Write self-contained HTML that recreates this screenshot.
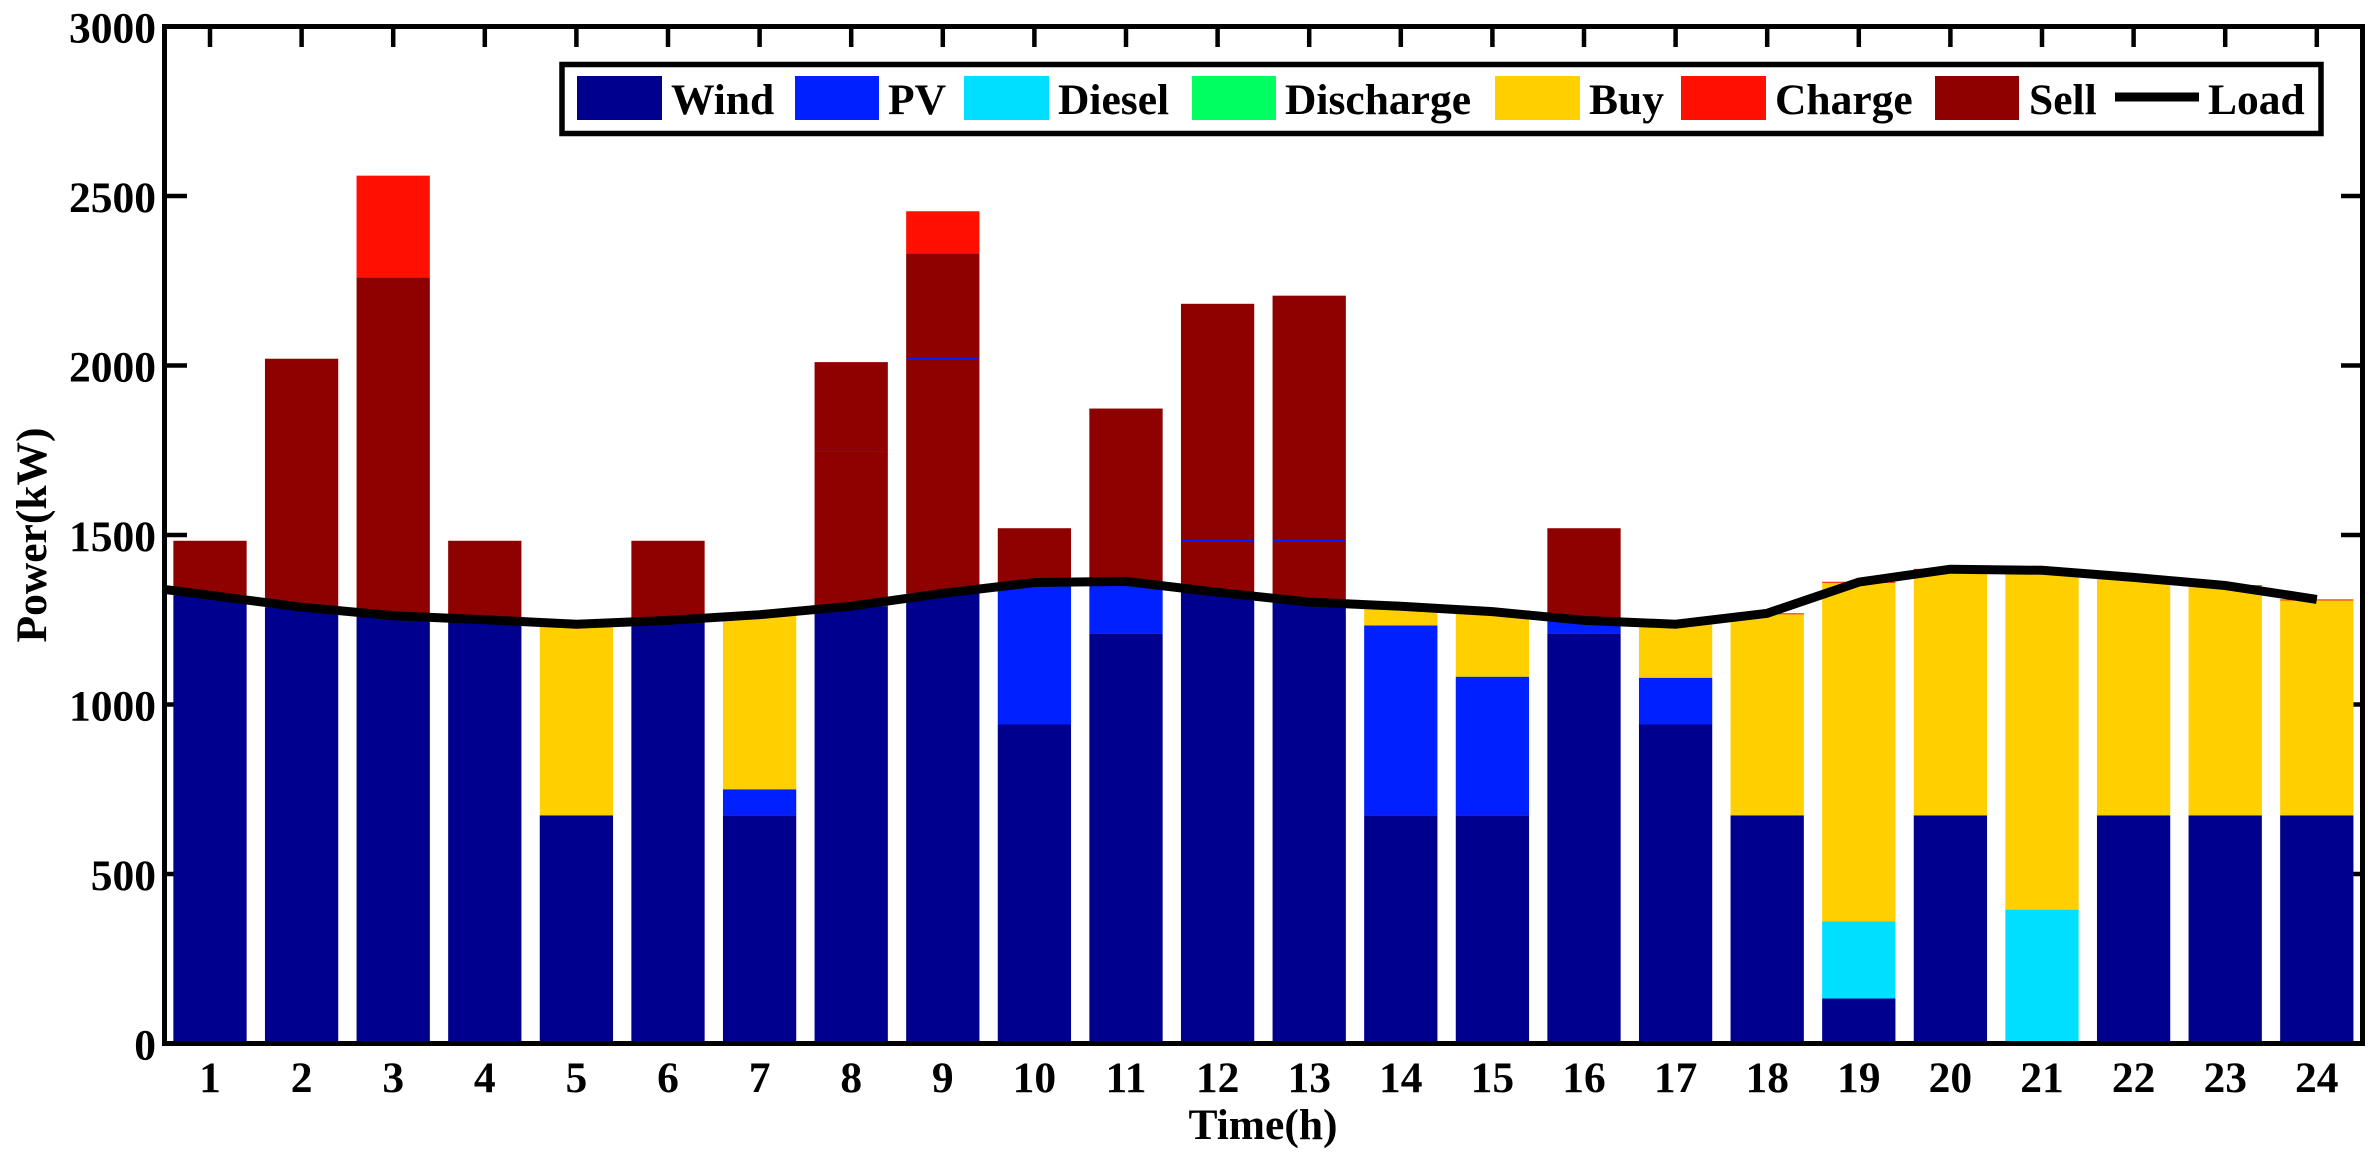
<!DOCTYPE html>
<html lang="en">
<head>
<meta charset="utf-8">
<title>Power dispatch chart</title>
<style>
html,body{margin:0;padding:0;background:#fff;}
svg{display:block;}
text{font-family:"Liberation Serif","Times New Roman",serif;font-weight:bold;fill:#000;font-size:43.5px;}
</style>
</head>
<body>
<svg id="chart" xmlns="http://www.w3.org/2000/svg" width="2373" height="1157" viewBox="0 0 2373 1157">
  <rect x="0" y="0" width="2373" height="1157" fill="#fff"/>
  <defs><clipPath id="plot-clip"><rect x="164" y="26" width="2199" height="1018"/></clipPath></defs>
  <g id="ticks"></g>
  <g id="bars"></g>
  <g id="seams"></g>
  <rect x="164.5" y="26.5" width="2198" height="1017" fill="none" stroke="#000" stroke-width="5"/>
  <g id="labels"></g>
  <text x="1263" y="1139" text-anchor="middle">Time(h)</text>
  <text transform="translate(46,535) rotate(-90)" text-anchor="middle">Power(kW)</text>
  <path id="load-line" clip-path="url(#plot-clip)" fill="none" stroke="#000" stroke-width="9" stroke-linejoin="miter"/>
  <g>
    <rect x="562" y="64.5" width="1759" height="69" fill="#fff" stroke="#000" stroke-width="5.5"/>
    <rect x="577" y="76" width="85" height="44" fill="#00008f"/>
    <text x="671" y="114">Wind</text>
    <rect x="795" y="76" width="84" height="44" fill="#0020ff"/>
    <text x="888" y="114">PV</text>
    <rect x="964" y="76" width="85" height="44" fill="#00dfff"/>
    <text x="1058" y="114">Diesel</text>
    <rect x="1192" y="76" width="84" height="44" fill="#00ff60"/>
    <text x="1285" y="114">Discharge</text>
    <rect x="1495" y="76" width="85" height="44" fill="#ffcf00"/>
    <text x="1589" y="114">Buy</text>
    <rect x="1681" y="76" width="85" height="44" fill="#ff1000"/>
    <text x="1775" y="114">Charge</text>
    <rect x="1935" y="76" width="84" height="44" fill="#8f0000"/>
    <text x="2029" y="114">Sell</text>
    <line x1="2115" x2="2199" y1="97" y2="97" stroke="#000" stroke-width="9"/>
    <text x="2208" y="114">Load</text>
  </g>
</svg>
<script>
const hours = [1,2,3,4,5,6,7,8,9,10,11,12,13,14,15,16,17,18,19,20,21,22,23,24];
const yTickValues = [0,500,1000,1500,2000,2500,3000];
const wind = [1322,1287,1262,1250,673,1248,673,1290,1328,941,1210,1331,1302,673,673,1210,941,673,133,673,0,673,673,673];
const pv = [0,0,0,0,0,0,77,0,0,419,153,0,0,560,409,38,138,0,0,0,0,0,0,0];
const diesel = [0,0,0,0,0,0,0,0,0,0,0,0,0,0,0,0,0,0,227,0,395,0,0,0];
const discharge = [0,0,0,0,0,0,0,0,0,0,0,0,0,0,0,0,0,0,0,0,0,0,0,0];
const buy = [0,0,0,0,564,0,515,0,0,0,0,0,0,57,192,0,158,593,999,724,1001,702,676,634];
const sell = [161,733,998,233,0,235,0,720,1003,160,510,851,904,0,0,272,0,0,0,0,0,0,0,0];
const charge = [0,0,300,0,0,0,0,0,124,0,0,0,0,0,0,0,0,3,3,3,0,0,3,3];
const loadHours = [0,1,2,3,4,5,6,7,8,9,10,11,12,13,14,15,16,17,18,19,20,21,22,23,24];
const load = [1357,1322,1287,1262,1250,1237,1248,1265,1290,1328,1360,1363,1331,1302,1290,1274,1248,1237,1269,1361,1399,1396,1375,1351,1310];
const seamHours = [8,9,12,13];
const seamValues = [1752,2020,1483,1483];

const NS = 'http://www.w3.org/2000/svg';
const xScale = h => 210 + (h - 1) * 91.6;
const yScale = v => 1043.5 - v * 0.339;
const barWidth = 0.8 * 91.6;

function mk(tag, attrs, parentId) {
  const el = document.createElementNS(NS, tag);
  for (const k in attrs) el.setAttribute(k, attrs[k]);
  document.getElementById(parentId).appendChild(el);
  return el;
}

const stackNames = ['wind','pv','diesel','discharge','buy','sell','charge'];
const stackSeries = [wind, pv, diesel, discharge, buy, sell, charge];
const stackColors = ['#00008f','#0020ff','#00dfff','#00ff60','#ffcf00','#8f0000','#ff1000'];

hours.forEach((h, i) => {
  let base = 0;
  stackSeries.forEach((series, s) => {
    const v = series[i];
    if (v > 0) {
      const yTop = yScale(base + v);
      const el = mk('rect', {
        x: xScale(h) - barWidth / 2, y: yTop, width: barWidth,
        height: yScale(base) - yTop, fill: stackColors[s]
      }, 'bars');
      
      
    }
    base += v;
  });
});

seamHours.forEach((h, i) => {
  const el = mk('line', {
    x1: xScale(h) - barWidth / 2 + 1, x2: xScale(h) + barWidth / 2 - 1,
    y1: yScale(seamValues[i]), y2: yScale(seamValues[i]),
    stroke: '#0020ff', 'stroke-width': h === 8 ? 0.8 : 1.6
  }, 'seams');
  
  
});

hours.forEach(h => {
  const top = mk('line', {x1: xScale(h), x2: xScale(h), y1: 26, y2: 47, stroke: '#000', 'stroke-width': 4.5}, 'ticks');
  
  
  const bottom = mk('line', {x1: xScale(h), x2: xScale(h), y1: 1024, y2: 1044, stroke: '#000', 'stroke-width': 4.5}, 'ticks');
  
  
  const label = mk('text', {x: xScale(h), y: 1092, 'text-anchor': 'middle'}, 'labels');
  label.textContent = String(h);
  
  
});

yTickValues.forEach(v => {
  const left = mk('line', {x1: 165, x2: 187, y1: yScale(v), y2: yScale(v), stroke: '#000', 'stroke-width': 4.5}, 'ticks');
  
  
  const right = mk('line', {x1: 2341, x2: 2362, y1: yScale(v), y2: yScale(v), stroke: '#000', 'stroke-width': 4.5}, 'ticks');
  
  
  const label = mk('text', {x: 156, y: yScale(v) + 16, 'text-anchor': 'end'}, 'labels');
  label.textContent = String(v);
  
  
});

document.getElementById('load-line').setAttribute('d',
  loadHours.map((h, i) => (i ? 'L' : 'M') + xScale(h).toFixed(1) + ' ' + yScale(load[i]).toFixed(1)).join(' '));
</script>
</body>
</html>
